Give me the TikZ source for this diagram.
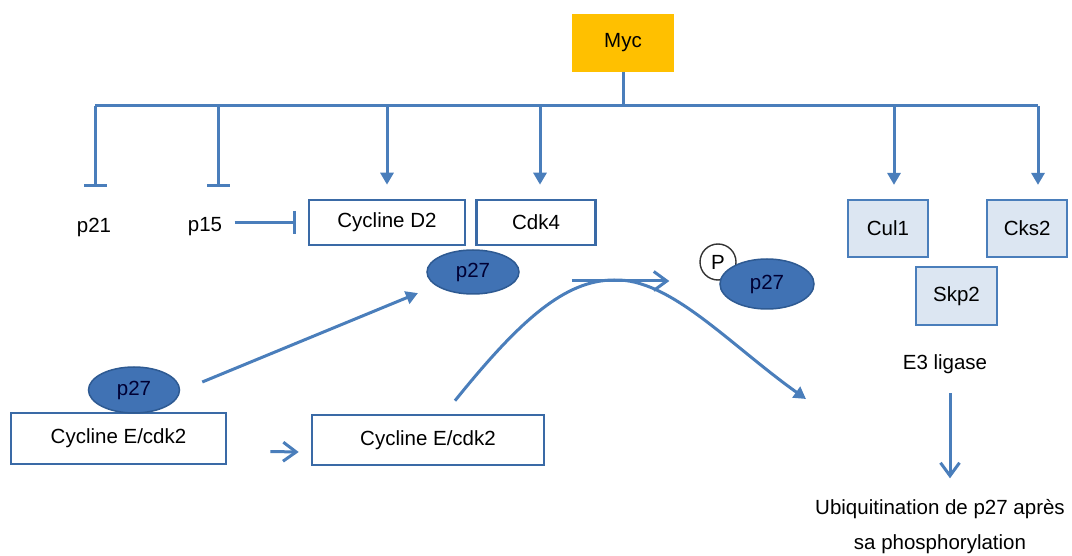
\documentclass[tikz,border=0pt]{standalone}
\usepackage{fontspec}
\setmainfont{Liberation Sans}
\usetikzlibrary{positioning,arrows.meta,shapes.geometric}
\definecolor{mycgold}{HTML}{FFC000}
\definecolor{pathblue}{HTML}{4A7EBB}
\definecolor{boxedge}{HTML}{3A6AA6}
\definecolor{protfill}{HTML}{4072B4}
\definecolor{protedge}{HTML}{2E5A92}
\definecolor{ligfill}{HTML}{DCE6F2}

\begin{document}
\begin{tikzpicture}[x=1pt, y=-1pt,
  every node/.style={font=\fontsize{20.5}{24}\selectfont},
  cplx/.style={draw=boxedge, line width=2.6pt, fill=white, inner sep=0pt, minimum height=45pt},
  lig/.style={draw=pathblue, line width=2.2pt, fill=ligfill, inner sep=0pt,
    minimum width=80pt, minimum height=57pt},
  prot/.style={ellipse, draw=protedge, line width=1.5pt, fill=protfill, inner sep=0pt,
    text=black!80!blue},
  link/.style={pathblue, line width=3pt},
  act/.style={link, -{Triangle[length=12pt,width=13pt]}},
  inh/.style={link, -{Bar[width=23pt]}},
  opn/.style={link, -{Straight Barb[length=13pt,width=19pt]}}]
\useasboundingbox (0,0) rectangle (1072,556);
\node[fill=mycgold, minimum width=102pt, minimum height=58pt] (myc) at (623,43) {Myc};
\node (p21) at (94,227) {p21};
\node (p15) at (205,227) {p15};
\node[cplx, minimum width=156pt] (cyd2) at (387,222.5) {Cycline D2};
\node[cplx, minimum width=119pt, right=9pt of cyd2] (cdk4) {Cdk4};
\node[prot, minimum width=92pt, minimum height=44pt] (p27d) at (473,272) {p27};
\node[circle, draw=black!80, line width=1.4pt, fill=white, minimum size=36pt, inner sep=0pt]
  (phos) at (718,262) {P};
\node[prot, minimum width=94pt, minimum height=50pt] (p27p) at (767,284) {p27};
\node[cplx, minimum width=215pt, minimum height=51pt] (cye1) at (118.5,438.5) {Cycline E/cdk2};
\node[prot, minimum width=91pt, minimum height=46pt] (p27e) at (134,390) {p27};
\node[cplx, minimum width=232pt, minimum height=50pt] (cye2) at (428,440) {Cycline E/cdk2};
\node[lig] (cul1) at (888,228.5) {Cul1};
\node[lig, right=57pt of cul1] (cks2) {Cks2};
\node[lig, minimum width=81pt, minimum height=58pt] (skp2) at (956.5,296) {Skp2};
\node (e3) at (945,364) {E3 ligase};
\node[align=center, font=\fontsize{20.5}{35}\selectfont] (ubq) at (940,527)
  {Ubiquitination de p27 après\\sa phosphorylation};
% Myc targets
\coordinate (bus) at (623,106);
\coordinate (busl) at (95,106);
\coordinate (busr) at (1038,106);
\coordinate (b21) at (95,187);
\coordinate (b15) at (218,187);
\coordinate (bd2) at (387,106);
\coordinate (bk4) at (540,106);
\coordinate (bcul) at (894,106);
\draw[link] (myc.south) -- (bus);
\draw[link] (busl) -- (busr);
\draw[inh] (busl) -- (b21);
\draw[inh] (b15 |- bus) -- (b15);
\draw[act, shorten >=14pt] (bd2) -- (bd2 |- cyd2.north);
\draw[act, shorten >=14pt] (bk4) -- (bk4 |- cdk4.north);
\draw[act, shorten >=14pt] (bcul) -- (bcul |- cul1.north);
\draw[act, shorten >=14pt] (busr) -- (busr |- cks2.north);
\draw[inh, shorten <=9pt, shorten >=12pt] (p15.east |- cyd2.west) -- (cyd2.west);
% p27 exchange and degradation
\coordinate (deg) at (806,399);
\coordinate (lig) at (950,393);
\draw[act] ([shift={(22pt,8pt)}]p27e.east) -- ([shift={(-22pt,-5pt)}]p27d.south west);
\draw[opn] ([shift={(52pt,-9pt)}]p27d.east) -- ([shift={(-30pt,-19pt)}]phos.west);
\draw[act] ([shift={(27pt,13pt)}]cye2.north) .. controls (520,320) and (565,280) .. (614,280)
  .. controls (670,278) and (730,345) .. (deg);
\draw[opn] ([shift={(43pt,-13pt)}]cye1.east) -- ([shift={(-12pt,-12pt)}]cye2.west);
\draw[opn, shorten >=18pt] (lig) -- (lig |- ubq.north);
\end{tikzpicture}
\end{document}
